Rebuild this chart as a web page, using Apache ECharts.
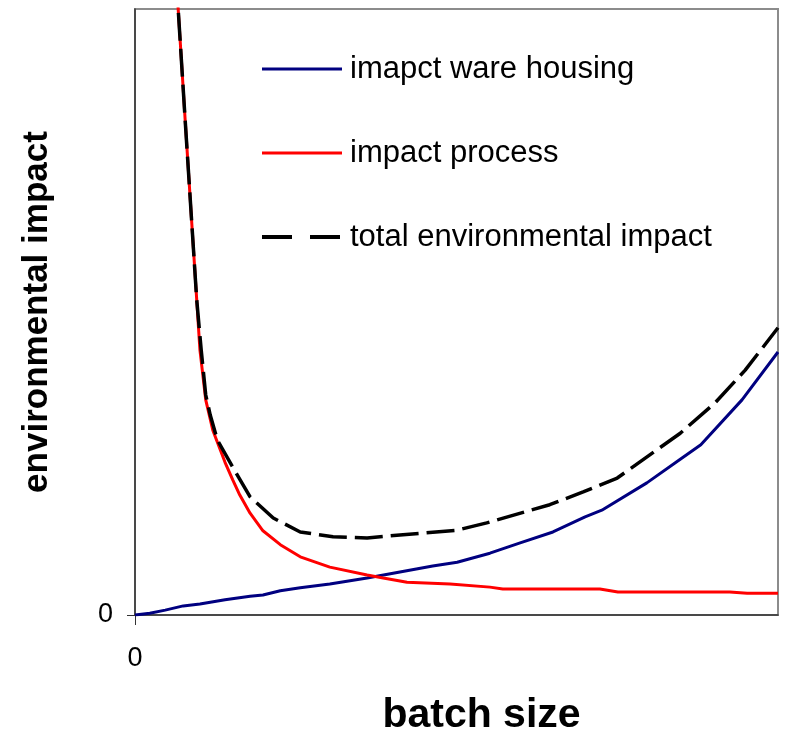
<!DOCTYPE html>
<html>
<head>
<meta charset="utf-8">
<script src="https://cdn.jsdelivr.net/npm/echarts@6/dist/echarts.min.js"></script>
<style>
html,body{margin:0;padding:0;background:#fff;}
#chart{width:785px;height:733px;}
</style>
</head>
<body>
<div id="chart"></div>
<script>
// Series names
var seriesNames = ['imapct ware housing', 'impact process', 'total environmental impact'];

// impact ware housing (batch size, impact)
var warehouseX = [0, 2.3, 4.7, 7.5, 10.1, 14.0, 17.9, 19.9, 22.6, 25.7, 30.3, 36.1, 41.2, 46.3, 50.1, 55.2, 59.9, 65.0, 70.0, 72.6, 79.6, 84.8, 88.0, 94.4, 100];
var warehouseY = [0, 0.3, 0.8, 1.5, 1.8, 2.5, 3.1, 3.3, 4.0, 4.5, 5.1, 6.1, 7.1, 8.1, 8.7, 10.2, 11.9, 13.7, 16.2, 17.3, 21.8, 25.7, 28.1, 35.5, 43.4];

// impact process
var processX = [6.4, 7.8, 8.9, 9.6, 10.1, 11.0, 12.1, 14.0, 15.2, 16.3, 17.9, 19.9, 22.6, 25.7, 30.3, 36.1, 38.6, 42.3, 49.0, 55.2, 57.2, 72.3, 75.1, 92.5, 95.2, 100];
var processY = [105.3, 81.7, 63.5, 52.0, 43.7, 35.5, 30.5, 25.2, 22.3, 19.8, 16.8, 13.9, 11.6, 9.6, 7.9, 6.6, 6.1, 5.4, 5.1, 4.6, 4.3, 4.3, 3.8, 3.8, 3.6, 3.6];

// total environmental impact
var totalX = [6.4, 7.8, 8.9, 9.6, 10.3, 11.0, 11.7, 12.8, 15.2, 17.9, 21.5, 25.7, 30.8, 36.1, 41.2, 50.1, 54.7, 64.5, 69.7, 75.0, 84.8, 90.2, 94.9, 100];
var totalY = [105.3, 81.7, 63.5, 52.0, 43.7, 36.3, 33.0, 28.9, 24.4, 19.5, 16.0, 13.7, 12.9, 12.7, 13.2, 14.0, 15.2, 18.2, 20.3, 22.6, 30.0, 35.0, 40.4, 47.4];

// tick labels
var xTickValues = [0];
var yTickValues = [0];

function pairs(xs, ys) {
  return xs.map(function (x, i) { return [x, ys[i]]; });
}

var chart = echarts.init(document.getElementById('chart'), null, {renderer: 'canvas'});
var font = 'Liberation Sans, Arial, sans-serif';

chart.setOption({
  animation: false,
  backgroundColor: '#ffffff',
  grid: {
    left: 135, top: 9, right: 7, bottom: 118,
    outerBoundsMode: 'none', containLabel: false,
    show: true, borderColor: '#8c8c8c', borderWidth: 2, backgroundColor: 'transparent'
  },
  legend: {
    orient: 'vertical',
    left: 260, top: 53, padding: 0,
    itemWidth: 80, itemHeight: 14,
    itemGap: 52,
    itemStyle: {color: 'transparent', borderColor: 'transparent', borderWidth: 0, opacity: 0},
    lineStyle: {width: 3},
    textStyle: {fontFamily: font, fontSize: 31, color: '#000', lineHeight: 32, padding: [0, 0, 0, 3]},
    data: [
      {name: seriesNames[0]},
      {name: seriesNames[1]},
      {name: seriesNames[2], lineStyle: {type: [30, 18], width: 4}}
    ],
    selectedMode: false
  },
  xAxis: {
    type: 'value', min: 0, max: 100,
    name: 'batch size', nameLocation: 'middle', nameGap: 80,
    nameTextStyle: {fontFamily: font, fontSize: 41, fontWeight: 'bold', color: '#000', padding: [0, 0, 0, 50]},
    axisLine: {show: true, onZero: false, lineStyle: {color: '#333', width: 1.5}},
    axisTick: {show: true, length: 10, customValues: xTickValues, lineStyle: {color: '#333'}},
    axisLabel: {show: true, customValues: xTickValues, margin: 30, fontFamily: font, fontSize: 27, color: '#000'},
    splitLine: {show: false}
  },
  yAxis: {
    type: 'value', min: 0, max: 100,
    name: 'environmental impact', nameLocation: 'middle', nameGap: 80,
    nameTextStyle: {fontFamily: font, fontSize: 35, fontWeight: 'bold', color: '#000'},
    axisLine: {show: true, onZero: false, lineStyle: {color: '#333', width: 1.5}},
    axisTick: {show: true, length: 8, customValues: yTickValues, lineStyle: {color: '#333'}},
    axisLabel: {show: true, customValues: yTickValues, margin: 22, fontFamily: font, fontSize: 27, color: '#000'},
    splitLine: {show: false}
  },
  series: [
    {
      name: seriesNames[0], type: 'line', data: pairs(warehouseX, warehouseY),
      showSymbol: false, symbol: 'none', clip: true,
      lineStyle: {color: '#000080', width: 3}, itemStyle: {color: '#000080'}, z: 2
    },
    {
      name: seriesNames[1], type: 'line', data: pairs(processX, processY),
      showSymbol: false, symbol: 'none', clip: true,
      lineStyle: {color: '#ff0000', width: 3}, itemStyle: {color: '#ff0000'}, z: 2
    },
    {
      name: seriesNames[2], type: 'line', data: pairs(totalX, totalY),
      showSymbol: false, symbol: 'none', clip: true,
      lineStyle: {color: '#000000', width: 3.5, type: [28, 8]}, itemStyle: {color: '#000'}, z: 3
    }
  ]
});
</script>
</body>
</html>
